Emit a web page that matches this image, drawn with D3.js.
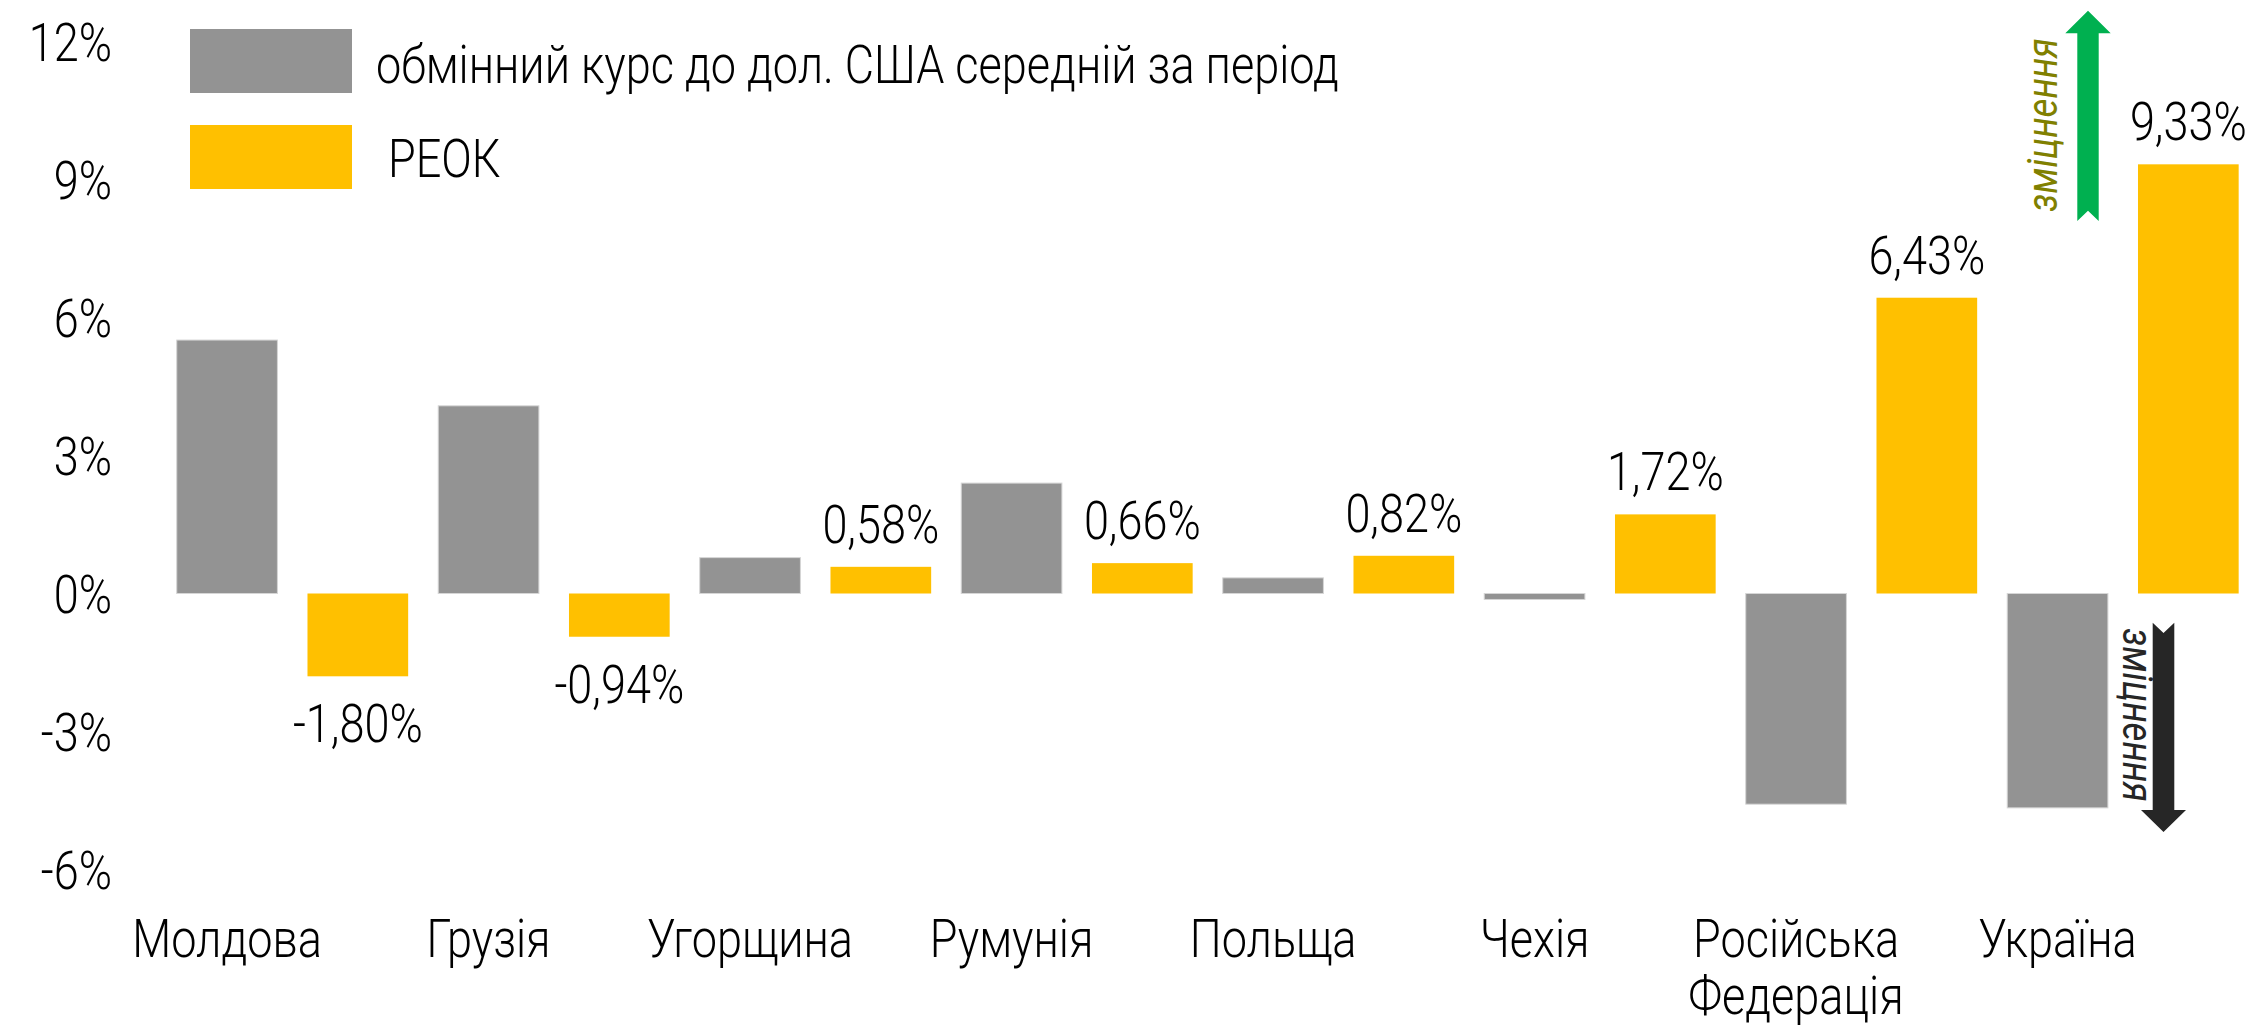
<!DOCTYPE html>
<html>
<head>
<meta charset="utf-8">
<script src="https://cdn.jsdelivr.net/npm/d3@7"></script>
<style>
  html, body { margin: 0; padding: 0; background: #fff; }
  svg { display: block; }
  text { font-family: Roboto, "Noto Sans", sans-serif; font-weight: 300; fill: #000; }
</style>
</head>
<body>
<div id="chart"></div>
<script>
// data
const countries = ["Молдова", "Грузія", "Угорщина", "Румунія", "Польща", "Чехія", "Російська Федерація", "Україна"];
const nominal = [5.51, 4.08, 0.78, 2.40, 0.34, -0.13, -4.58, -4.66];
const reer = [-1.80, -0.94, 0.58, 0.66, 0.82, 1.72, 6.43, 9.33];
const seriesNames = ["обмінний курс до дол. США середній за період", "РЕОК"];
const yTicks = [-6, -3, 0, 3, 6, 9, 12];
const arrowLabel = "зміцнення";

const width = 2253;
const height = 1026;
const fontSize = 53;
const squeeze = 0.85; // the original uses a narrow face
const colors = { nominal: "#939393", reer: "#FFC000" };

const svg = d3.select("#chart")
  .append("svg")
  .attr("width", width)
  .attr("height", height);

// place a horizontally squeezed text
function label(parent, x, y, str, anchor) {
  return parent.append("text")
    .attr("transform", `translate(${x},${y}) scale(${squeeze},1)`)
    .attr("text-anchor", anchor || "start")
    .attr("font-size", fontSize)
    .text(str);
}

const x0 = d3.scaleBand()
  .domain(countries)
  .range([161.7, 2253.7])
  .paddingInner(0)
  .paddingOuter(0);

const x1 = d3.scaleBand()
  .domain(["nominal", "reer"])
  .range([0, x0.bandwidth()])
  .paddingInner(0.23)
  .paddingOuter(0.115);

const y = d3.scaleLinear()
  .domain([-6, 12])
  .range([869.5, 41.5]);

// y axis labels only
const yAxis = svg.append("g")
  .attr("transform", "translate(112,0)")
  .call(d3.axisLeft(y).tickValues(yTicks).tickSize(0).tickPadding(0).tickFormat(d => d + "%"));
yAxis.select(".domain").remove();
yAxis.selectAll("text")
  .attr("font-size", fontSize)
  .attr("font-family", null)
  .attr("fill", "#000")
  .attr("x", 0)
  .attr("dy", "0.36em")
  .attr("transform", `scale(${squeeze},1)`);

const rows = countries.map((c, i) => ({ country: c, nominal: nominal[i], reer: reer[i] }));

const groups = svg.append("g").selectAll("g")
  .data(rows)
  .enter().append("g")
  .attr("transform", d => `translate(${x0(d.country)},0)`);

groups.selectAll("rect")
  .data(d => ["nominal", "reer"].map(k => ({ key: k, value: d[k] })))
  .enter().append("rect")
  .attr("x", d => x1(d.key))
  .attr("width", x1.bandwidth())
  .attr("y", d => y(Math.max(0, d.value)))
  .attr("height", d => Math.abs(y(d.value) - y(0)))
  .attr("fill", d => colors[d.key])
  .attr("stroke", d => d.key === "nominal" ? "#d6d6d6" : "none")
  .attr("stroke-width", 1);

// data labels for the REER series
groups.each(function(d) {
  const ly = d.reer >= 0 ? y(d.reer) - 24 : y(d.reer) + 66;
  label(d3.select(this), x1("reer") + x1.bandwidth() / 2, ly,
    d.reer.toFixed(2).replace(".", ",") + "%", "middle");
});

// category labels, centred under the grey bars
const catG = svg.append("g");
countries.forEach(c => {
  const t = label(catG, x0(c) + x1("nominal") + x1.bandwidth() / 2, 957, null, "middle");
  t.selectAll("tspan")
    .data(c.split(" "))
    .enter().append("tspan")
    .attr("x", 0)
    .attr("dy", (w, i) => i === 0 ? 0 : 57)
    .text(w => w);
});

// legend
const legend = svg.append("g");
const legendKeys = ["nominal", "reer"];
const legendTop = [29, 125];
const legendBaseline = [83, 177];
const legendTextX = [376, 388];
legendKeys.forEach((k, i) => {
  legend.append("rect")
    .attr("x", 190)
    .attr("y", legendTop[i])
    .attr("width", 162)
    .attr("height", 64)
    .attr("fill", colors[k]);
  label(legend, legendTextX[i], legendBaseline[i], seriesNames[i]);
});

// strengthening arrows
const upArrow = [[2088, 10.7], [2110.7, 33.3], [2098.7, 33.3], [2098.7, 221], [2088, 210.7],
  [2077.3, 221], [2077.3, 33.3], [2065.3, 33.3]];
const downArrow = [[2163.5, 832], [2186, 810], [2174.3, 810], [2174.3, 622.7], [2163.5, 633],
  [2152.7, 622.7], [2152.7, 810], [2141, 810]];

svg.append("polygon")
  .attr("points", upArrow.map(p => p.join(",")).join(" "))
  .attr("fill", "#00B050");
svg.append("polygon")
  .attr("points", downArrow.map(p => p.join(",")).join(" "))
  .attr("fill", "#262626");

svg.append("text")
  .attr("transform", `translate(2057,125) rotate(-90) scale(${squeeze},1)`)
  .attr("text-anchor", "middle")
  .attr("font-size", 43)
  .attr("font-style", "italic")
  .style("font-weight", 400)
  .style("fill", "#808000")
  .text(arrowLabel);

svg.append("text")
  .attr("transform", `translate(2123,715) rotate(90) scale(${squeeze},1)`)
  .attr("text-anchor", "middle")
  .attr("font-size", 43)
  .attr("font-style", "italic")
  .style("font-weight", 400)
  .style("fill", "#262626")
  .text(arrowLabel);
</script>
</body>
</html>
